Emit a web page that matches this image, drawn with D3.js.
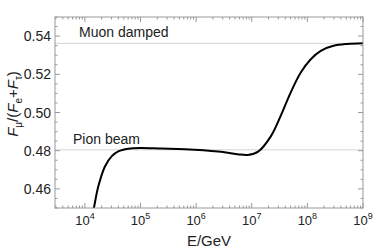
<!DOCTYPE html>
<html>
<head>
<meta charset="utf-8">
<script src="https://cdn.jsdelivr.net/npm/d3@7"></script>
<style>
  body { margin: 0; background: #fff; }
  svg { font-family: "Liberation Sans", Arial, sans-serif; }
</style>
</head>
<body>
<div id="chart"></div>
<script>
// energy in GeV and flavour ratio
const energy = [1.32e4, 1.45e4, 1.74e4, 2.29e4, 3.02e4, 3.98e4, 6.03e4, 1e5, 2.4e5, 6.3e5,
  2.5e6, 5.5e6, 8.5e6, 1.3e7, 2.2e7, 3.3e7, 5.0e7, 7.6e7, 1.15e8, 1.74e8, 2.95e8, 5.25e8, 1e9];
const ratio = [0.4444, 0.4500, 0.4612, 0.4717, 0.4770, 0.4796, 0.4810, 0.4814, 0.4811, 0.4808,
  0.4796, 0.4782, 0.4778, 0.4795, 0.4875, 0.4981, 0.5104, 0.5209, 0.5279, 0.5323, 0.5349, 0.5359, 0.5363];

const refNames = ['Muon damped', 'Pion beam'];
const refValues = [0.5362, 0.4805];

const xTickExp = [4, 5, 6, 7, 8, 9];
const yTicks = [0.46, 0.48, 0.50, 0.52, 0.54];

const width = 375;
const height = 250;
const margin = { left: 55, right: 12, top: 17, bottom: 42 };

const svg = d3.select('#chart')
  .append('svg')
  .attr('width', width)
  .attr('height', height);

const x = d3.scaleLog()
  .domain([2900, 1e9])
  .range([margin.left, width - margin.right]);

const y = d3.scaleLinear()
  .domain([0.45, 0.55])
  .range([height - margin.bottom, margin.top]);

const x0 = x.range()[0], x1 = x.range()[1];
const y0 = y.range()[0], y1 = y.range()[1];

svg.append('clipPath').attr('id', 'clip')
  .append('rect')
  .attr('x', x0).attr('y', y1)
  .attr('width', x1 - x0).attr('height', y0 - y1);

// reference lines
svg.selectAll('.ref')
  .data(refValues)
  .enter()
  .append('line')
  .attr('x1', x0).attr('x2', x1)
  .attr('y1', d => y(d)).attr('y2', d => y(d))
  .attr('stroke', (d, i) => i === 0 ? '#d4d4d4' : '#e2e2e2')
  .attr('stroke-width', (d, i) => i === 0 ? 1 : 1.6);

svg.selectAll('.refLabel')
  .data(refNames)
  .enter()
  .append('text')
  .attr('x', (d, i) => i === 0 ? 79 : 73)
  .attr('y', (d, i) => y(refValues[i]) - 6)
  .attr('font-size', '14px')
  .attr('fill', '#222')
  .text(d => d);

// curve
const line = d3.line()
  .x((d, i) => x(energy[i]))
  .y(d => y(d))
  .curve(d3.curveCatmullRom.alpha(0.5));

svg.append('path')
  .datum(ratio)
  .attr('clip-path', 'url(#clip)')
  .attr('d', line)
  .attr('fill', 'none')
  .attr('stroke', 'black')
  .attr('stroke-width', 2);

// frame
svg.append('rect')
  .attr('x', x0).attr('y', y1)
  .attr('width', x1 - x0).attr('height', y0 - y1)
  .attr('fill', 'none')
  .attr('stroke', '#999')
  .attr('stroke-width', 1);

const tickColor = '#999';

// x ticks (top and bottom)
const xMinor = [];
for (let k = 3; k <= 8; k++) {
  for (let m = 2; m <= 9; m++) {
    const v = m * Math.pow(10, k);
    if (v >= x.domain()[0] && v <= x.domain()[1]) xMinor.push(v);
  }
}
const xMajor = xTickExp.map(e => Math.pow(10, e));

[[y0, -1], [y1, 1]].forEach(([base, dir]) => {
  svg.selectAll(null).data(xMajor).enter().append('line')
    .attr('x1', d => x(d)).attr('x2', d => x(d))
    .attr('y1', base).attr('y2', base + dir * 5)
    .attr('stroke', tickColor);
  svg.selectAll(null).data(xMinor).enter().append('line')
    .attr('x1', d => x(d)).attr('x2', d => x(d))
    .attr('y1', base).attr('y2', base + dir * 2.5)
    .attr('stroke', tickColor);
});

const xLabels = svg.selectAll('.xlab')
  .data(xTickExp)
  .enter()
  .append('text')
  .attr('x', d => x(Math.pow(10, d)))
  .attr('y', y0 + 17)
  .attr('text-anchor', 'middle')
  .attr('font-size', '13px')
  .attr('fill', '#222');
xLabels.append('tspan').text('10');
xLabels.append('tspan')
  .attr('dy', -6)
  .attr('font-size', '9px')
  .text(d => d);

// y ticks (left and right)
const yMinor = d3.range(0.45, 0.5501, 0.005).filter(v => yTicks.every(t => Math.abs(t - v) > 1e-6));

[[x0, 1], [x1, -1]].forEach(([base, dir]) => {
  svg.selectAll(null).data(yTicks).enter().append('line')
    .attr('x1', base).attr('x2', base + dir * 5)
    .attr('y1', d => y(d)).attr('y2', d => y(d))
    .attr('stroke', tickColor);
  svg.selectAll(null).data(yMinor).enter().append('line')
    .attr('x1', base).attr('x2', base + dir * 2.5)
    .attr('y1', d => y(d)).attr('y2', d => y(d))
    .attr('stroke', tickColor);
});

svg.selectAll('.ylab')
  .data(yTicks)
  .enter()
  .append('text')
  .attr('x', x0 - 4)
  .attr('y', d => y(d) + 5)
  .attr('text-anchor', 'end')
  .attr('font-size', '14px')
  .attr('fill', '#222')
  .text(d3.format('.2f'));

// axis titles
svg.append('text')
  .attr('x', (x0 + x1) / 2)
  .attr('y', 246)
  .attr('text-anchor', 'middle')
  .attr('font-size', '15px')
  .attr('fill', '#222')
  .text('E/GeV');

const yTitle = svg.append('text')
  .attr('transform', 'translate(18,104) rotate(-90)')
  .attr('text-anchor', 'middle')
  .attr('font-size', '15px')
  .attr('fill', '#222');
yTitle.append('tspan').attr('font-style', 'italic').text('F');
yTitle.append('tspan').attr('font-size', '10px').attr('dy', 4).text('μ');
yTitle.append('tspan').attr('dy', -4).text('/(');
yTitle.append('tspan').attr('font-style', 'italic').text('F');
yTitle.append('tspan').attr('font-size', '10px').attr('dy', 4).text('e');
yTitle.append('tspan').attr('dy', -4).text('+');
yTitle.append('tspan').attr('font-style', 'italic').text('F');
yTitle.append('tspan').attr('font-size', '10px').attr('dy', 4).text('τ');
yTitle.append('tspan').attr('dy', -4).text(')');
</script>
</body>
</html>
